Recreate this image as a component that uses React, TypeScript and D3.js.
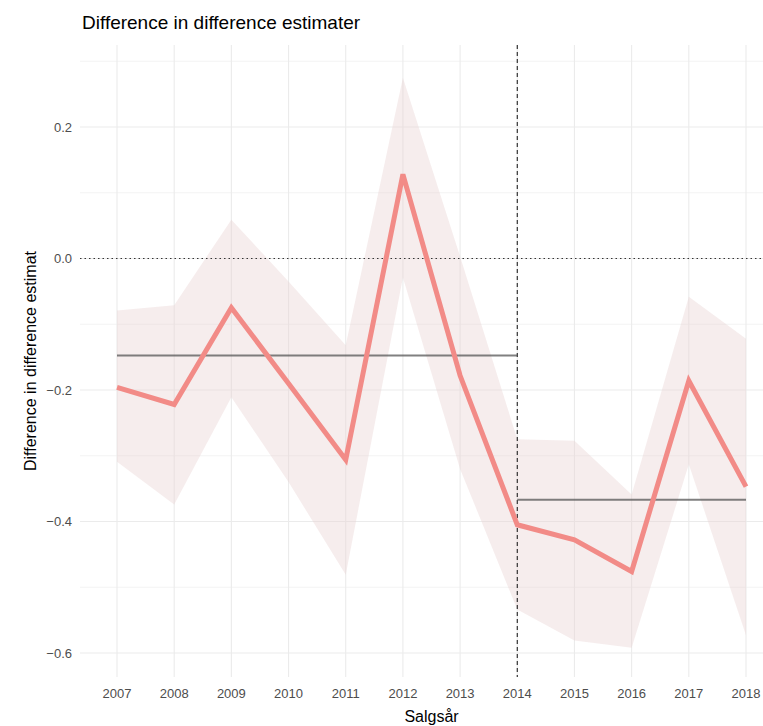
import React, { useEffect, useRef } from "react";
import * as d3 from "d3";

// years on the x axis
const years = [2007, 2008, 2009, 2010, 2011, 2012, 2013, 2014, 2015, 2016, 2017, 2018];
// point estimate per year
const estimate = [-0.196, -0.222, -0.075, -0.19, -0.306, 0.128, -0.178, -0.405, -0.428, -0.476, -0.186, -0.347];
// confidence band
const upper = [-0.079, -0.071, 0.059, -0.035, -0.132, 0.275, 0.003, -0.275, -0.277, -0.359, -0.058, -0.122];
const lower = [-0.309, -0.374, -0.211, -0.34, -0.481, -0.029, -0.32, -0.534, -0.581, -0.592, -0.313, -0.573];
// period means (before / after 2014)
const meanBefore = -0.1475;
const meanAfter = -0.367;
const cutYear = 2014;
const yTicks = [0.2, 0.0, -0.2, -0.4, -0.6];
const yMinor = [0.3, 0.1, -0.1, -0.3, -0.5];

const W = 763;
const H = 726;

const App = () => {
	const ref = useRef<SVGSVGElement>(null);

	useEffect(() => {
		const svg = d3.select(ref.current);
		svg.selectAll("*").remove();

		const panel = { left: 80, right: 763, top: 45, bottom: 677 };

		const x = d3.scaleLinear().domain([2007, 2018]).range([117, 746]);
		const y = d3.scaleLinear().domain([0.2, -0.6]).range([127, 653]);

		const data = years.map((yr, i) => ({
			year: yr,
			est: estimate[i],
			hi: upper[i],
			lo: lower[i],
		}));

		const g = svg.append("g");

		// grid
		g.selectAll(".minor")
			.data(yMinor)
			.enter()
			.append("line")
			.attr("x1", panel.left)
			.attr("x2", panel.right)
			.attr("y1", (d) => y(d))
			.attr("y2", (d) => y(d))
			.attr("stroke", "#ebebeb")
			.attr("stroke-width", 0.6);

		g.selectAll(".major")
			.data(yTicks)
			.enter()
			.append("line")
			.attr("x1", panel.left)
			.attr("x2", panel.right)
			.attr("y1", (d) => y(d))
			.attr("y2", (d) => y(d))
			.attr("stroke", "#ebebeb")
			.attr("stroke-width", 1.1);

		g.selectAll(".vgrid")
			.data(years)
			.enter()
			.append("line")
			.attr("x1", (d) => x(d))
			.attr("x2", (d) => x(d))
			.attr("y1", panel.top)
			.attr("y2", panel.bottom)
			.attr("stroke", "#ebebeb")
			.attr("stroke-width", 1.1);

		// ribbon
		const area = d3
			.area<any>()
			.x((d) => x(d.year))
			.y0((d) => y(d.lo))
			.y1((d) => y(d.hi));

		g.append("path")
			.datum(data)
			.attr("d", area)
			.attr("fill", "#e9d3d3")
			.attr("fill-opacity", 0.4);

		// zero line
		g.append("line")
			.attr("x1", panel.left)
			.attr("x2", panel.right)
			.attr("y1", y(0))
			.attr("y2", y(0))
			.attr("stroke", "#333")
			.attr("stroke-width", 1)
			.attr("stroke-dasharray", "1.5,3");

		// cut-off line
		g.append("line")
			.attr("x1", x(cutYear))
			.attr("x2", x(cutYear))
			.attr("y1", panel.top)
			.attr("y2", panel.bottom)
			.attr("stroke", "#222")
			.attr("stroke-width", 1.1)
			.attr("stroke-dasharray", "4,3");

		// period means
		g.append("line")
			.attr("x1", x(2007))
			.attr("x2", x(cutYear))
			.attr("y1", y(meanBefore))
			.attr("y2", y(meanBefore))
			.attr("stroke", "#555")
			.attr("stroke-opacity", 0.75)
			.attr("stroke-width", 2);

		g.append("line")
			.attr("x1", x(cutYear))
			.attr("x2", x(2018))
			.attr("y1", y(meanAfter))
			.attr("y2", y(meanAfter))
			.attr("stroke", "#555")
			.attr("stroke-opacity", 0.75)
			.attr("stroke-width", 2);

		// estimate line
		const line = d3
			.line<any>()
			.x((d) => x(d.year))
			.y((d) => y(d.est));

		g.append("path")
			.datum(data)
			.attr("d", line)
			.attr("fill", "none")
			.attr("stroke", "#f28b87")
			.attr("stroke-width", 5)
			.attr("stroke-linejoin", "miter");

		// axis labels
		g.selectAll(".ylab")
			.data(yTicks)
			.enter()
			.append("text")
			.attr("x", 72)
			.attr("y", (d) => y(d))
			.attr("dy", "0.35em")
			.attr("text-anchor", "end")
			.attr("fill", "#4d4d4d")
			.attr("font-size", 13)
			.text((d) => d3.format(".1f")(d));

		g.selectAll(".xlab")
			.data(years)
			.enter()
			.append("text")
			.attr("x", (d) => x(d))
			.attr("y", 698)
			.attr("text-anchor", "middle")
			.attr("fill", "#4d4d4d")
			.attr("font-size", 13)
			.text((d) => d);

		// titles
		svg.append("text")
			.attr("x", 82)
			.attr("y", 29)
			.attr("font-size", 19)
			.attr("fill", "#000")
			.text("Difference in difference estimater");

		svg.append("text")
			.attr("x", (panel.left + panel.right) / 2 + 10)
			.attr("y", 722)
			.attr("text-anchor", "middle")
			.attr("font-size", 16)
			.attr("fill", "#000")
			.text("Salgsår");

		svg.append("text")
			.attr("transform", `translate(36, ${(panel.top + panel.bottom) / 2}) rotate(-90)`)
			.attr("text-anchor", "middle")
			.attr("font-size", 16)
			.attr("fill", "#000")
			.text("Difference in difference estimat");
	}, []);

	return (
		<svg
			ref={ref}
			width={W}
			height={H}
			style={{ position: "absolute", left: 0, top: 0, fontFamily: "'Liberation Sans', Arial, sans-serif", background: "#fff" }}
		></svg>
	);
};

export default App;
